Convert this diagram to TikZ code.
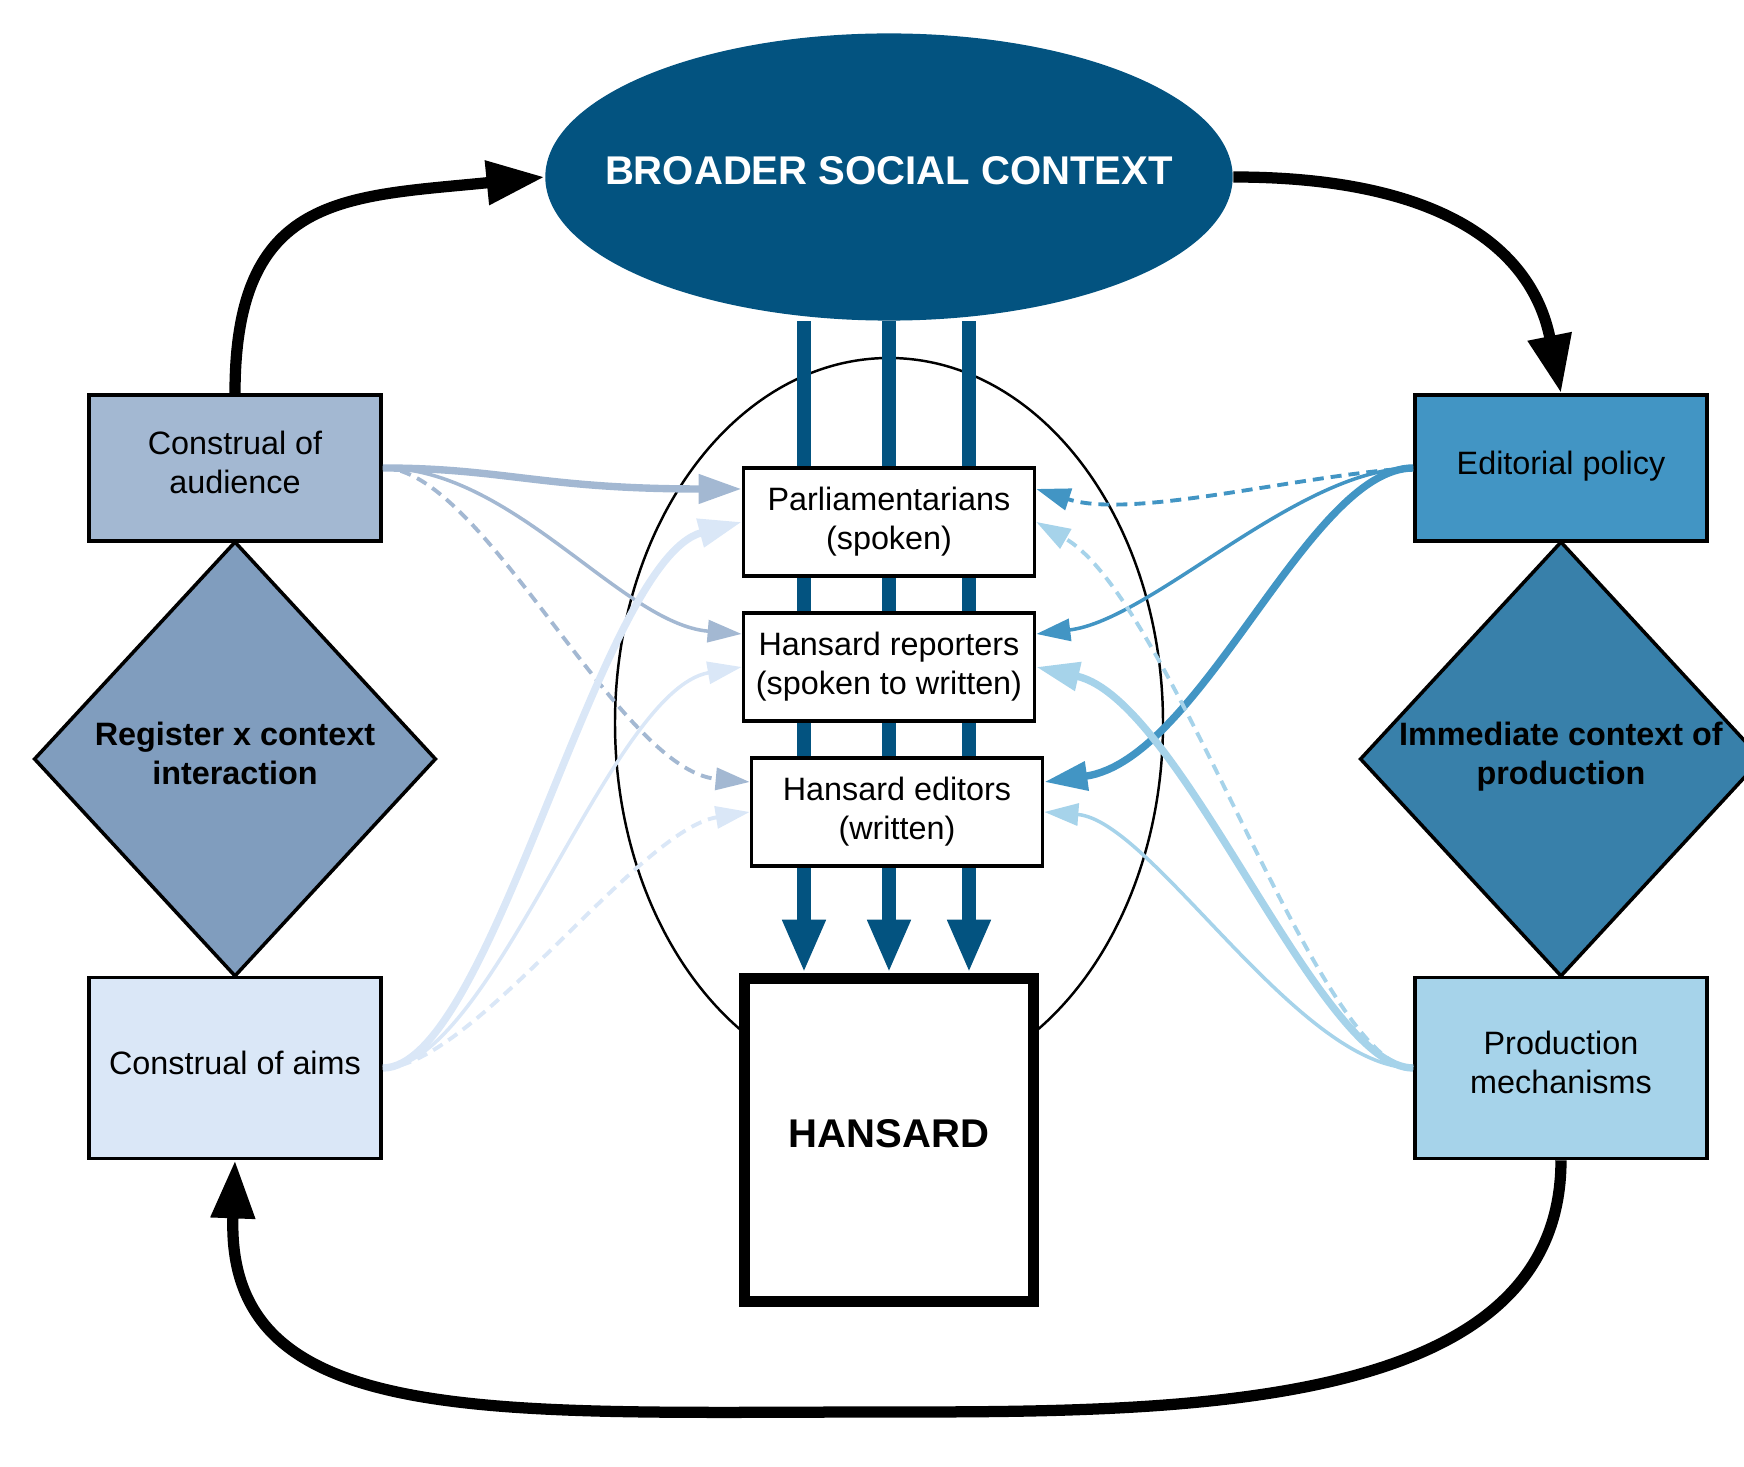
\documentclass[tikz,border=0pt]{standalone}
\usepackage{fontspec}
\setmainfont{Liberation Sans}
\usetikzlibrary{shapes.geometric,arrows.meta}

\definecolor{ctxblue}{RGB}{3,83,128}
\definecolor{audfill}{RGB}{163,184,210}
\definecolor{regfill}{RGB}{128,157,190}
\definecolor{aimfill}{RGB}{218,231,247}
\definecolor{polfill}{RGB}{66,149,196}
\definecolor{immfill}{RGB}{56,128,170}
\definecolor{prodfill}{RGB}{166,211,234}

\tikzset{
  txt/.style={font=\fontsize{9.2}{11.1}\selectfont, align=center},
  boldtxt/.style={font=\bfseries\fontsize{9.2}{11.1}\selectfont, align=center, text depth=3pt},
  bigtxt/.style={font=\bfseries\fontsize{11.4}{13}\selectfont, text depth=3.5pt},
  sidebox/.style={txt, draw, line width=1pt, minimum width=2.92cm, inner sep=0pt, text depth=3pt},
  midbox/.style={txt, draw, fill=white, line width=1pt, minimum width=2.91cm, minimum height=1.08cm, inner sep=0pt},
  rhomb/.style={draw, line width=1pt, shape=diamond, minimum width=4.02cm, minimum height=4.35cm, inner sep=0pt},
  cycleline/.style={line width=3.2pt, -{Triangle[length=0.58cm,width=0.42cm]}},
  bar/.style={ctxblue, line width=3.7pt, -{Triangle[length=0.53cm,width=0.4cm]}},
  heavy/.style={line width=2.1pt, -{Triangle[length=0.43cm,width=0.28cm]}},
  light/.style={line width=1pt, -{Triangle[length=0.34cm,width=0.22cm]}},
  dashy/.style={light, line width=1.1pt, dash pattern=on 0.11cm off 0.07cm},
}

\begin{document}
\begin{tikzpicture}[x=0.01cm,y=-0.01cm]
\useasboundingbox (0,0) rectangle (1744,1467);

% outline round the three stages
\draw[line width=0.7pt] (889,723) ellipse [x radius=274, y radius=365];

\node[ellipse, fill=ctxblue, minimum width=6.87cm, minimum height=2.87cm, inner sep=0pt] (ctx) at (889,177) {};
\node[bigtxt, text=white] (ctxtext) at (ctx) {BROADER SOCIAL CONTEXT};
\node[draw, fill=white, line width=3.2pt, minimum width=2.89cm, minimum height=3.23cm, bigtxt] (hans) at (889,1140) {HANSARD};

% the three channels down to the record
\foreach \dx in {-85,0,80}
  \draw[bar] ([xshift=\dx*0.01cm]ctx.south) -- ([xshift=\dx*0.01cm]hans.north);

\node[midbox] (parl) at (889,522) {Parliamentarians\\(spoken)};
\node[midbox] (rep) at (889,667) {Hansard reporters\\(spoken to written)};
\node[midbox] (edit) at (897,812) {Hansard editors\\(written)};

% left column
\node[sidebox, fill=audfill, minimum height=1.46cm] (aud) at (235,468) {Construal of\\audience};
\node[rhomb, fill=regfill] (reg) at (235,759) {};
\node[boldtxt] (regtext) at (reg) {Register x context\\interaction};
\node[sidebox, fill=aimfill, minimum height=1.81cm] (aims) at (235,1068) {Construal of aims};

% right column
\node[sidebox, fill=polfill, minimum height=1.46cm] (pol) at (1561,468) {Editorial policy};
\node[rhomb, fill=immfill] (imm) at (1561,759) {};
\node[boldtxt] (immtext) at (imm) {Immediate context of\\production};
\node[sidebox, fill=prodfill, minimum height=1.81cm] (prod) at (1561,1068) {Production\\mechanisms};

% audience
\draw[heavy, audfill] (aud.east) .. controls +(120,0) and +(-200,0) .. ([yshift=0.33cm]parl.west);
\draw[light, audfill] (aud.east) .. controls +(130,0) and +(-120,-10) .. ([yshift=0.33cm]rep.west);
\draw[dashy, audfill] (aud.east) .. controls +(100,0) and +(-132,-12) .. ([yshift=0.3cm]edit.west);
% aims
\draw[heavy, aimfill] (aims.east) .. controls +(109,0) and +(-143,38) .. (parl.west);
\draw[light, aimfill] (aims.east) .. controls +(109,0) and +(-133,23) .. (rep.west);
\draw[dashy, aimfill] (aims.east) .. controls +(89,0) and +(-112,18) .. (edit.west);
% editorial policy
\draw[dashy, polfill] (pol.west) .. controls +(-115,7) and +(96,31) .. ([yshift=0.33cm]parl.east);
\draw[light, polfill] (pol.west) .. controls +(-115,0) and +(116,-14) .. ([yshift=0.33cm]rep.east);
\draw[heavy, polfill] (pol.west) .. controls +(-105,0) and +(157,-22) .. ([yshift=0.3cm]edit.east);
% production
\draw[dashy, prodfill] (prod.west) .. controls +(-95,0) and +(136,78) .. (parl.east);
\draw[heavy, prodfill] (prod.west) .. controls +(-95,0) and +(146,33) .. (rep.east);
\draw[light, prodfill] (prod.west) .. controls +(-115,0) and +(107,8) .. (edit.east);

% outer cycle
\coordinate (bottom) at (889,1412);
\draw[cycleline] (aud.north) .. controls +(0,-200) and +(-200,20) .. (ctx.west);
\draw[cycleline] (ctx.east) .. controls +(200,0) and +(-30,-150) .. (pol.north);
\draw[cycleline] (prod.south) .. controls +(0,250) and +(300,0) .. (bottom)
  .. controls +(-400,0) and +(-10,270) .. (aims.south);
\end{tikzpicture}
\end{document}
